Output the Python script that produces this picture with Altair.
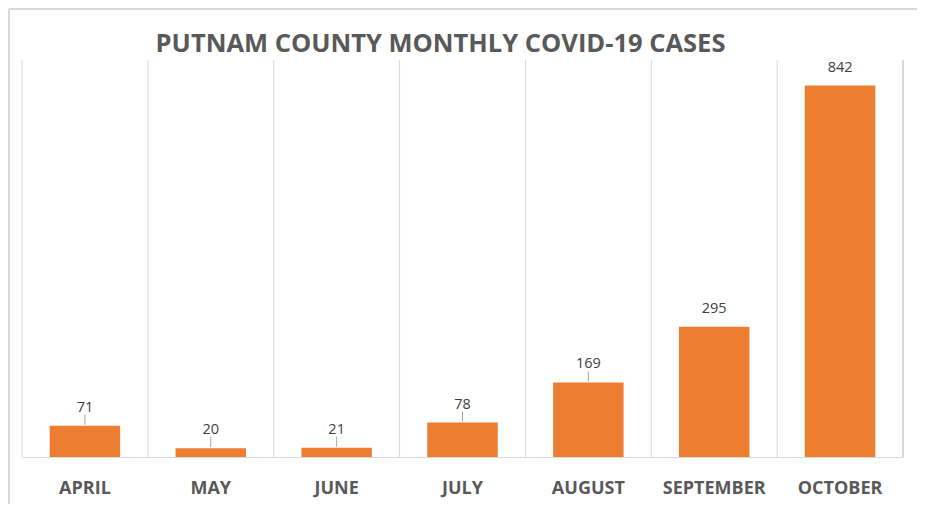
import altair as alt
import pandas as pd

months = ["APRIL", "MAY", "JUNE", "JULY", "AUGUST", "SEPTEMBER", "OCTOBER"]
cases = [71, 20, 21, 78, 169, 295, 842]
leader = [True, True, True, True, True, False, False]
title_text = "PUTNAM COUNTY MONTHLY COVID-19 CASES"

df = pd.DataFrame({"month": months, "cases": cases, "leader": leader})

W, H = 881, 397
GRID = "#d9d9d9"
ORANGE = "#ED7D31"

xscale = alt.Scale(paddingInner=0, paddingOuter=0)
xenc = alt.X(
    "month:N",
    sort=months,
    scale=xscale,
    axis=alt.Axis(
        title=None,
        labelAngle=0,
        labelAlign="center",
        bandPosition=0.5,
        labelFont="Open Sans",
        labelFontSize=18,
        labelFontWeight="bold",
        labelColor="#595959",
        labelPadding=22,
        ticks=False,
        grid=False,
        domainColor=GRID,
        domainWidth=1,
    ),
)
yenc = alt.Y("cases:Q", scale=alt.Scale(domain=[0, 900]), axis=None)

base = alt.Chart(df)

bars = base.mark_bar(color=ORANGE, width=alt.RelativeBandSize(0.56)).encode(x=xenc, y=yenc)
grid = base.mark_rule(color=GRID, strokeWidth=1).encode(
    x=alt.X("month:N", sort=months, bandPosition=0),
    y=alt.value(0),
    y2=alt.value(H),
)
right_edge = base.mark_rule(color=GRID, strokeWidth=1).encode(
    x=alt.value(W), y=alt.value(0), y2=alt.value(H)
)
leaders = base.transform_filter("datum.leader").mark_rule(
    color="#a6a6a6", strokeWidth=1, yOffset=-1, y2Offset=-11
).encode(x=alt.X("month:N", sort=months), y="cases:Q", y2="cases:Q")
labels = base.mark_text(
    dy=-18, font="Open Sans", fontSize=14.5, color="#404040", baseline="middle"
).encode(x=alt.X("month:N", sort=months), y="cases:Q", text="cases:Q")

title = alt.Chart(pd.DataFrame({"t": [title_text]})).mark_text(
    font="Open Sans", fontSize=25.5, fontWeight="bold", color="#595959",
    align="center", baseline="middle",
).encode(x=alt.value(W / 2 - 22), y=alt.value(-16), text="t:N")

border_top = base.mark_rule(color=GRID, strokeWidth=1.5).encode(
    x=alt.value(-13), x2=alt.value(W + 40), y=alt.value(-51)
)
border_left = base.mark_rule(color=GRID, strokeWidth=1.5).encode(
    x=alt.value(-13), y=alt.value(-51), y2=alt.value(H + 60)
)

chart = (
    alt.layer(bars, grid, right_edge, leaders, labels, title, border_top, border_left)
    .properties(
        width=W,
        height=H,
        autosize=alt.AutoSizeParams(type="none"),
        padding={"left": 14, "top": 52, "right": 14, "bottom": 47},
        background="white",
    )
    .configure_view(stroke=None)
)

chart.save("out.html", embed_options={"renderer": "svg", "actions": False})
